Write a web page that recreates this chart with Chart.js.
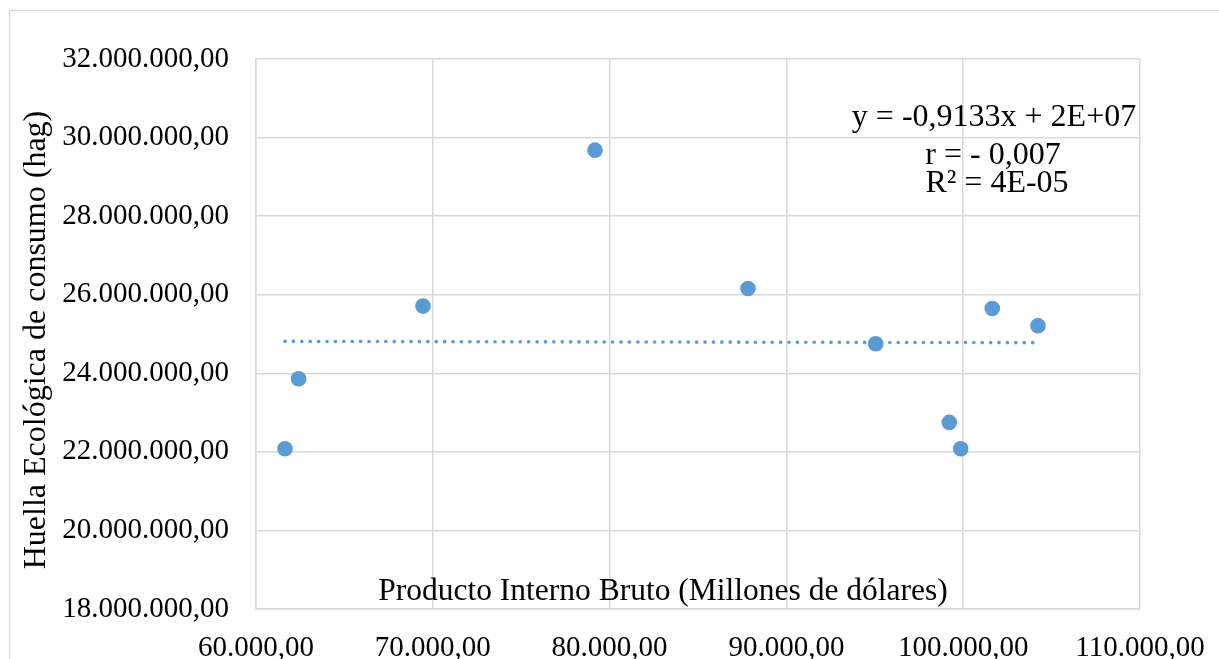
<!DOCTYPE html>
<html>
<head>
<meta charset="utf-8">
<script src="https://cdn.jsdelivr.net/npm/chart.js@4.4.1/dist/chart.umd.min.js"></script>
<style>
  html, body { margin: 0; padding: 0; background: #fff; }
  #wrap { width: 1219px; height: 659px; position: relative; }
</style>
</head>
<body>
<div id="wrap"><canvas id="pibChart"></canvas></div>
<script>
// PIB (millones de dólares) vs huella ecológica de consumo (hag)
const pib = [61640, 62410, 69445, 79174, 87828, 95050, 99213, 99858, 101645, 104230];
const huella = [22080000, 23860000, 25710000, 29680000, 26160000, 24750000, 22750000, 22080000, 25650000, 25210000];

const ecuacion = ['y = -0,9133x + 2E+07', 'r = - 0,007', 'R² = 4E-05'];
const tituloX = 'Producto Interno Bruto (Millones de dólares)';
const tituloY = 'Huella Ecológica de consumo (hag)';

const FONT = '"Liberation Serif", "Times New Roman", serif';
const GRID = '#d9d9d9';
const AZUL = '#5b9bd5';

// formato 32.000.000,00
const formato = (v) => {
  const [ent, dec] = Number(v).toFixed(2).split('.');
  return ent.replace(/\B(?=(\d{3})+(?!\d))/g, '.') + ',' + dec;
};

// linea de tendencia lineal (minimos cuadrados)
const n = pib.length;
const mx = pib.reduce((a, b) => a + b, 0) / n;
const my = huella.reduce((a, b) => a + b, 0) / n;
let sxy = 0, sxx = 0;
pib.forEach((x, i) => { sxy += (x - mx) * (huella[i] - my); sxx += (x - mx) * (x - mx); });
const pendiente = sxy / sxx;
const corte = my - pendiente * mx;
const xMin = Math.min(...pib), xMax = Math.max(...pib);
const tendencia = [
  { x: xMin, y: corte + pendiente * xMin },
  { x: xMax, y: corte + pendiente * xMax },
];

const textos = {
  id: 'textos',
  beforeDraw(chart) {
    const c = chart.ctx;
    c.save();
    c.strokeStyle = GRID;
    c.lineWidth = 1.3;
    c.strokeRect(9.5, 10.5, 1300, 700);
    c.restore();
  },
  afterDraw(chart) {
    const c = chart.ctx;
    c.save();
    c.fillStyle = '#000';
    c.textAlign = 'center';
    c.textBaseline = 'alphabetic';
    c.font = '31.5px ' + FONT;
    c.fillText(tituloX, 663, 600);
    c.font = '32px ' + FONT;
    c.fillText(ecuacion[0], 994, 126);
    c.fillText(ecuacion[1], 993, 164);
    c.fillText(ecuacion[2], 997, 192);
    // titulo eje y
    c.translate(37, 340);
    c.rotate(-Math.PI / 2);
    c.textBaseline = 'middle';
    c.fillText(tituloY, 0, 0);
    c.restore();
  }
};

new Chart(document.getElementById('pibChart'), {
  type: 'scatter',
  data: {
    datasets: [
      {
        label: 'Huella',
        data: pib.map((x, i) => ({ x, y: huella[i] })),
        backgroundColor: AZUL,
        borderColor: AZUL,
        pointRadius: 7.8,
        pointBorderWidth: 0,
      },
      {
        label: 'Lineal',
        type: 'line',
        data: tendencia,
        borderColor: AZUL,
        borderWidth: 3.6,
        borderDash: [0.1, 8.3],
        borderCapStyle: 'round',
        pointRadius: 0,
        fill: false,
      },
    ],
  },
  options: {
    responsive: true,
    maintainAspectRatio: false,
    animation: false,
    layout: { padding: { top: 59, right: 79, bottom: 0, left: 0 } },
    scales: {
      x: {
        type: 'linear',
        min: 60000,
        max: 110000,
        ticks: {
          stepSize: 10000,
          callback: (v) => formato(v),
          color: '#000',
          font: { family: FONT, size: 29 },
          padding: 22,
          maxRotation: 0,
        },
        grid: { color: GRID, lineWidth: 1.5, drawTicks: false },
        border: { color: GRID, width: 1.5 },
        afterFit: (s) => { s.height = 50; s.paddingLeft = 0; s.paddingRight = 0; },
      },
      y: {
        min: 18000000,
        max: 32000000,
        ticks: {
          stepSize: 2000000,
          callback: (v) => formato(v),
          color: '#000',
          font: { family: FONT, size: 29 },
          padding: 27,
        },
        grid: { color: GRID, lineWidth: 1.5, drawTicks: false },
        border: { color: GRID, width: 1.5 },
        afterFit: (s) => { s.width = 256; s.paddingTop = 0; s.paddingBottom = 0; },
      },
    },
    plugins: {
      legend: { display: false },
      tooltip: { enabled: false },
    },
  },
  plugins: [textos],
});
</script>
</body>
</html>
